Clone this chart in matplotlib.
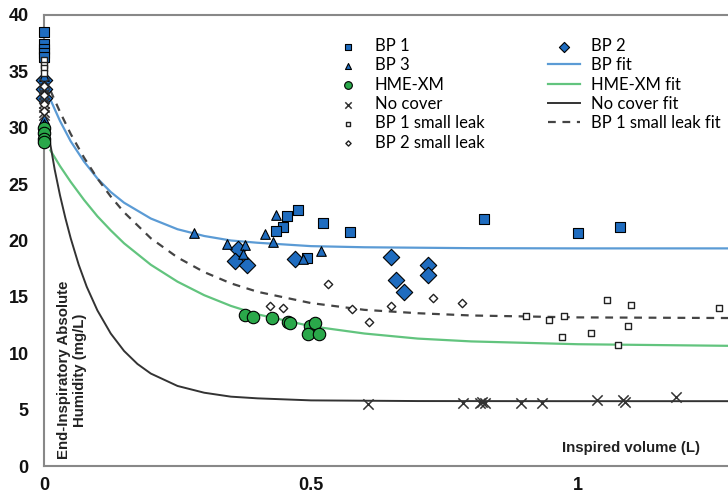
import numpy as np
import matplotlib
matplotlib.use("Agg")
import matplotlib.pyplot as plt

# scatter data (x = inspired volume L, y = absolute humidity mg/L)
bp1_x = [0, 0, 0, 0, 0, 0.476, 0.4545, 0.448, 0.434, 0.523, 0.573, 0.492, 0.8245, 0.9994, 1.0787]
bp1_y = [38.5, 37.4, 37.0, 36.6, 36.3, 22.7, 22.2, 21.2, 20.85, 21.55, 20.75, 18.45, 21.9, 20.7, 21.2]

bp3_x = [0, 0, 0, 0.2815, 0.342, 0.376, 0.373, 0.4345, 0.414, 0.428, 0.518, 0.4845]
bp3_y = [34.6, 30.8, 30.3, 20.7, 19.7, 19.6, 18.8, 22.3, 20.6, 19.9, 19.05, 18.4]

bp2_x = [0, 0, 0, 0.364, 0.358, 0.38, 0.47, 0.649, 0.659, 0.675, 0.72, 0.72]
bp2_y = [34.2, 33.4, 32.6, 19.25, 18.2, 17.8, 18.4, 18.5, 16.5, 15.4, 17.85, 16.9]

hme_x = [0, 0, 0, 0, 0.3764, 0.392, 0.4264, 0.4575, 0.4607, 0.498, 0.5075, 0.495, 0.5156]
hme_y = [30.0, 29.5, 29.0, 28.7, 13.4, 13.2, 13.1, 12.75, 12.65, 12.45, 12.65, 11.7, 11.7]

nocover_x = [0, 0, 0, 0, 0, 0, 0, 0, 0.6073, 0.784, 0.8165, 0.826, 0.821, 0.8926, 0.932, 1.036, 1.085, 1.088, 1.183]
nocover_y = [34.0, 33.5, 33.0, 32.6, 32.2, 31.8, 31.4, 31.1, 5.5, 5.55, 5.6, 5.55, 5.7, 5.6, 5.55, 5.85, 5.85, 5.65, 6.15]

bp1leak_x = [0, 0, 0, 0, 0.902, 0.946, 0.974, 0.9706, 1.0237, 1.0549, 1.1, 1.094, 1.0743, 1.2646]
bp1leak_y = [36.0, 35.6, 35.3, 34.9, 13.3, 12.95, 13.3, 11.4, 11.8, 14.75, 14.3, 12.45, 10.75, 14.05]

bp2leak_x = [0, 0, 0, 0, 0.5325, 0.423, 0.447, 0.576, 0.609, 0.649, 0.728, 0.783]
bp2leak_y = [33.7, 32.9, 32.1, 31.5, 16.15, 14.15, 14.0, 13.95, 12.75, 14.15, 14.9, 14.5]

# fitted curves
bpfit_x = [0.012, 0.03, 0.05, 0.075, 0.1, 0.125, 0.15, 0.2, 0.25, 0.3, 0.35, 0.4, 0.5, 0.6, 0.8, 1.0, 1.3]
bpfit_y = [32.5, 30.6, 28.8, 27.0, 25.5, 24.3, 23.35, 21.95, 21.0, 20.4, 20.0, 19.8, 19.5, 19.4, 19.32, 19.3, 19.3]

hmefit_x = [0.012, 0.03, 0.05, 0.075, 0.1, 0.125, 0.15, 0.2, 0.25, 0.3, 0.35, 0.4, 0.5, 0.6, 0.7, 0.8, 1.0, 1.3]
hmefit_y = [28.0, 26.6, 25.2, 23.6, 22.15, 20.9, 19.75, 17.85, 16.35, 15.15, 14.2, 13.45, 12.4, 11.75, 11.3, 11.05, 10.8, 10.65]

ncfit_x = [0.012, 0.02, 0.03, 0.04, 0.05, 0.065, 0.08, 0.1, 0.125, 0.15, 0.175, 0.2, 0.25, 0.3, 0.35, 0.4, 0.5, 0.7, 1.0, 1.3]
ncfit_y = [28.5, 26.3, 24.0, 22.0, 20.2, 17.85, 15.9, 13.8, 11.75, 10.2, 9.05, 8.2, 7.1, 6.5, 6.15, 6.0, 5.82, 5.76, 5.75, 5.75]

leakfit_x = [0.012, 0.03, 0.05, 0.075, 0.1, 0.125, 0.15, 0.2, 0.25, 0.3, 0.35, 0.4, 0.5, 0.6, 0.7, 0.8, 1.0, 1.3]
leakfit_y = [33.3, 31.4, 29.45, 27.35, 25.5, 23.9, 22.5, 20.2, 18.5, 17.2, 16.2, 15.45, 14.45, 13.85, 13.55, 13.35, 13.18, 13.12]

fig = plt.figure(figsize=(7.28, 4.94), dpi=100)
ax = fig.add_axes([44 / 728, 28 / 494, 1 - 44 / 728, (466 - 15) / 494])

blue = "#1f6cbf"
green = "#2aa84a"

ax.plot(bpfit_x, bpfit_y, color="#5b9bd5", lw=1.6, label="BP fit", zorder=2)
ax.plot(hmefit_x, hmefit_y, color="#62c47e", lw=1.6, label="HME-XM fit", zorder=2)
ax.plot(ncfit_x, ncfit_y, color="#333333", lw=1.4, label="No cover fit", zorder=2)
ax.plot(leakfit_x, leakfit_y, color="#444444", lw=1.6, ls=(0, (3.5, 3)), label="BP 1 small leak fit", zorder=2)

ax.scatter(bp2_x, bp2_y, marker="D", s=70, c=blue, edgecolors="black", linewidths=0.8, label="BP 2", zorder=3, clip_on=False)
ax.scatter(bp1_x, bp1_y, marker="s", s=42, c=blue, edgecolors="black", linewidths=0.8, label="BP 1", zorder=3, clip_on=False)
ax.scatter(bp3_x, bp3_y, marker="^", s=48, c=blue, edgecolors="black", linewidths=0.8, label="BP 3", zorder=3, clip_on=False)
ax.scatter(hme_x, hme_y, marker="o", s=80, c=green, edgecolors="black", linewidths=0.8, label="HME-XM", zorder=3, clip_on=False)
ax.scatter(nocover_x, nocover_y, marker="x", s=55, c="#333333", linewidths=1.1, label="No cover", zorder=3, clip_on=False)
ax.scatter(bp1leak_x, bp1leak_y, marker="s", s=22, facecolors="white", edgecolors="#222222", linewidths=1.0, label="BP 1 small leak", zorder=3, clip_on=False)
ax.scatter(bp2leak_x, bp2leak_y, marker="D", s=18, facecolors="white", edgecolors="#222222", linewidths=1.0, label="BP 2 small leak", zorder=3, clip_on=False)

ax.set_xlim(0, 1.281)
ax.set_ylim(0, 40)
ax.set_xticks([0, 0.5, 1])
ax.set_xticklabels(["0", "0.5", "1"])
ax.set_yticks(range(0, 41, 5))
ax.tick_params(length=0, labelsize=13, colors="#111111")
ax.tick_params(axis="y", pad=11)
ax.tick_params(axis="x", pad=8)
for lab in ax.get_xticklabels() + ax.get_yticklabels():
    lab.set_fontweight("bold")
    lab.set_family("Liberation Sans")

for s in ["left", "bottom", "top"]:
    ax.spines[s].set_color("#888888")
    ax.spines[s].set_linewidth(1.5)
ax.spines["right"].set_visible(False)

fig.text(72 / 728, 1 - 370 / 494, "End-Inspiratory Absolute\nHumidity (mg/L)", rotation=90,
         ha="center", va="center", fontsize=10.8, fontweight="bold", family="Liberation Sans",
         color="#222222", linespacing=1.1)
fig.text(631 / 728, 1 - 448 / 494, "Inspired volume (L)", ha="center", va="center",
         fontsize=10.8, fontweight="bold", family="Liberation Sans", color="#222222")

handles, labels = ax.get_legend_handles_labels()
order = ["BP 1", "BP 3", "HME-XM", "No cover", "BP 1 small leak", "BP 2 small leak",
         "BP 2", "BP fit", "HME-XM fit", "No cover fit", "BP 1 small leak fit"]
hmap = dict(zip(labels, handles))
leg = ax.legend([hmap[k] for k in order], order, ncol=2, loc="upper left",
                bbox_to_anchor=(317 / 728, 1 - 23 / 494), bbox_transform=fig.transFigure,
                frameon=False, markerscale=0.62, handlelength=1.9, handletextpad=0.68,
                columnspacing=3.83, labelspacing=0.2, prop={"family": "Lato", "size": 12})

fig.savefig("out.png", dpi=100)
